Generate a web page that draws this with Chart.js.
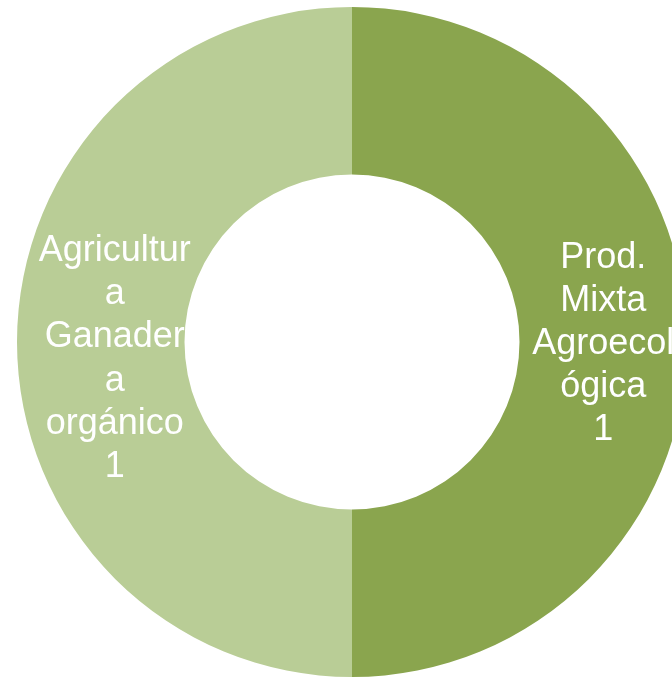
<!DOCTYPE html>
<html lang="es">
<head>
  <meta charset="UTF-8">
  <title>Tipo de producción</title>
  <script src="https://cdn.jsdelivr.net/npm/chart.js"></script>
  <style>
    html, body { margin: 0; padding: 0; background: #fff; overflow: hidden; width: 672px; height: 678px; }
    #wrap { position: absolute; left: 0; top: 7px; }
  </style>
</head>
<body>
  <div id="wrap">
    <canvas id="donut" width="704" height="670"></canvas>
  </div>

  <script>
    // datos
    const categories = [
      ['Prod.', 'Mixta', 'Agroecol', 'ógica'],
      ['Agricultur', 'a', 'Ganader', 'a', 'orgánico']
    ];
    const values = [1, 1];
    const colors = ['#8aa54e', '#b9cd96'];

    // desplazamiento de cada etiqueta respecto al centro del arco
    const labelShift = [[0, 2], [14, 17]];

    const sliceLabels = {
      id: 'sliceLabels',
      afterDatasetsDraw(chart) {
        const ctx = chart.ctx;
        const arcs = chart.getDatasetMeta(0).data;
        ctx.save();
        ctx.fillStyle = '#ffffff';
        ctx.font = '36px "Liberation Sans", Arial, sans-serif';
        ctx.textAlign = 'center';
        ctx.textBaseline = 'middle';
        arcs.forEach((arc, i) => {
          const p = arc.tooltipPosition();
          const lines = categories[i].concat([String(values[i])]);
          const lh = 43.2;
          const top = p.y + labelShift[i][1] - (lines.length - 1) * lh / 2;
          lines.forEach((t, k) => {
            ctx.fillText(t, p.x + labelShift[i][0], top + k * lh);
          });
        });
        ctx.restore();
      }
    };

    new Chart(document.getElementById('donut'), {
      type: 'doughnut',
      data: {
        labels: categories.map(c => c.join(' ')),
        datasets: [{
          data: values,
          backgroundColor: colors,
          borderWidth: 0
        }]
      },
      options: {
        responsive: false,
        animation: false,
        cutout: '50%',
        layout: { padding: 0 },
        plugins: {
          legend: { display: false },
          tooltip: { enabled: false }
        }
      },
      plugins: [sliceLabels]
    });
  </script>
</body>
</html>
